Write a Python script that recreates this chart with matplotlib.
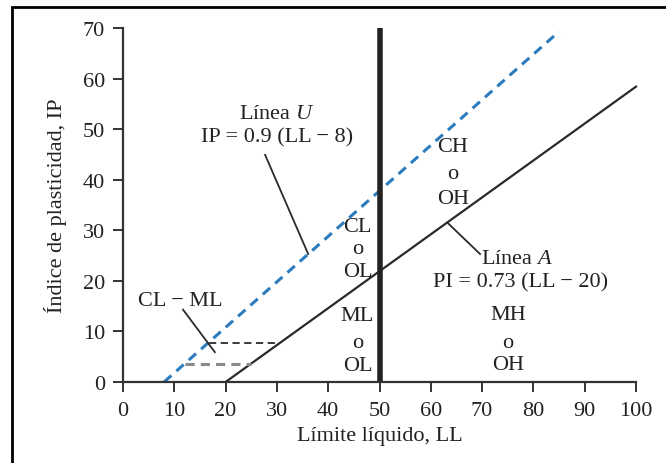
import matplotlib
matplotlib.use("Agg")
import matplotlib.pyplot as plt
import numpy as np
from matplotlib.patches import Rectangle

# Carta de plasticidad de Casagrande
ll_u = [8, 85]            # tramo de la línea U
ll_a = [20, 100]          # tramo de la línea A
ll_limit = 50             # límite entre suelos de baja y alta plasticidad
ip_cl_ml = [3.6, 7.8]     # franja CL - ML
x_ticks = list(range(0, 101, 10))
y_ticks = list(range(0, 71, 10))


def line_u(ll):
    return 0.9 * (np.asarray(ll, dtype=float) - 8)


def line_a(ll):
    return 0.73 * (np.asarray(ll, dtype=float) - 20)


def inv_u(ip):
    return ip / 0.9 + 8


def inv_a(ip):
    return ip / 0.73 + 20


plt.rcParams['font.family'] = ['Liberation Serif', 'DejaVu Serif']
plt.rcParams['mathtext.fontset'] = 'custom'
plt.rcParams['mathtext.rm'] = 'Liberation Serif'
plt.rcParams['mathtext.it'] = 'Liberation Serif:italic'
txt = '#222222'

fig = plt.figure(figsize=(6.66, 4.64), dpi=100)
ax = fig.add_axes([0.1847, 0.1746, 0.7703, 0.763])

# marco exterior
fig.patches.append(Rectangle((0.018, -0.1), 1.2, 1.083, transform=fig.transFigure,
                             fill=False, edgecolor='black', linewidth=2.0))

# líneas U y A
ax.plot(ll_u, line_u(ll_u), color='#2b7bbd', linestyle=(0, (3.2, 2.2)), linewidth=2.2)
ax.plot(ll_a, line_a(ll_a), color='#2a2a2a', linewidth=1.6, clip_on=False)
ax.plot([ll_limit, ll_limit], [0, 70], color='#222222', linewidth=4, clip_on=False,
        solid_capstyle='butt')

# franja CL - ML
lo, hi = ip_cl_ml
ax.plot([inv_u(lo), inv_a(lo)], [lo, lo], color='#8a8a8a', linestyle=(0, (3, 2)), linewidth=2.2)
ax.plot([inv_u(hi), inv_a(hi)], [hi, hi], color='#2a2a2a', linestyle=(0, (4, 2.5)), linewidth=1.3)

# líneas indicadoras
ax.plot([27.7, 36.1], [44.9, line_u(36.1)], color='#2a2a2a', linewidth=1.3)
ax.plot([11.7, 17.9], [14.3, 5.9], color='#2a2a2a', linewidth=1.3)
ax.plot([63.2, 69.6], [line_a(63.2), 25.3], color='#2a2a2a', linewidth=1.3)

fs = 16
ax.text(30, 53, 'Línea $\\mathit{U}$', ha='center', va='center', fontsize=fs, color=txt)
ax.text(30, 48.4, 'IP = 0.9 (LL − 8)', ha='center', va='center', fontsize=fs, color=txt)
ax.text(11.1, 16.2, 'CL − ML', ha='center', va='center', fontsize=fs, color=txt)
ax.text(76.8, 24.5, 'Línea $\\mathit{A}$', ha='center', va='center', fontsize=fs, color=txt)
ax.text(77.4, 19.8, 'PI = 0.73 (LL − 20)', ha='center', va='center', fontsize=fs, color=txt)

zones = [
    (64.3, [46.6, 41.2, 36.3], ['CH', 'o', 'OH']),
    (45.7, [30.8, 26.4, 21.9], ['CL', 'o', 'OL']),
    (45.7, [13.1, 7.8, 3.3], ['ML', 'o', 'OL']),
    (75.0, [13.4, 7.9, 3.4], ['MH', 'o', 'OH']),
]
for x, ys, labels in zones:
    for y, s in zip(ys, labels):
        ax.text(x, y, s, ha='center', va='center', fontsize=fs, color=txt)

ax.set_xlim(0, 100)
ax.set_ylim(0, 70)
ax.set_xticks(x_ticks)
ax.set_yticks(y_ticks)
for side in ['top', 'right']:
    ax.spines[side].set_visible(False)
for side in ['left', 'bottom']:
    ax.spines[side].set_color('#333333')
    ax.spines[side].set_linewidth(1.6)
ax.tick_params(direction='out', length=7, width=1.4, color='#333333',
               labelsize=fs, labelcolor=txt)
ax.tick_params(axis='x', pad=7)
ax.tick_params(axis='y', pad=6)

ax.set_xlabel('Límite líquido, LL', fontsize=fs, color=txt, labelpad=4)
ax.set_ylabel('Índice de plasticidad, IP', fontsize=fs, color=txt, labelpad=11)

fig.savefig('out.png', dpi=100)
